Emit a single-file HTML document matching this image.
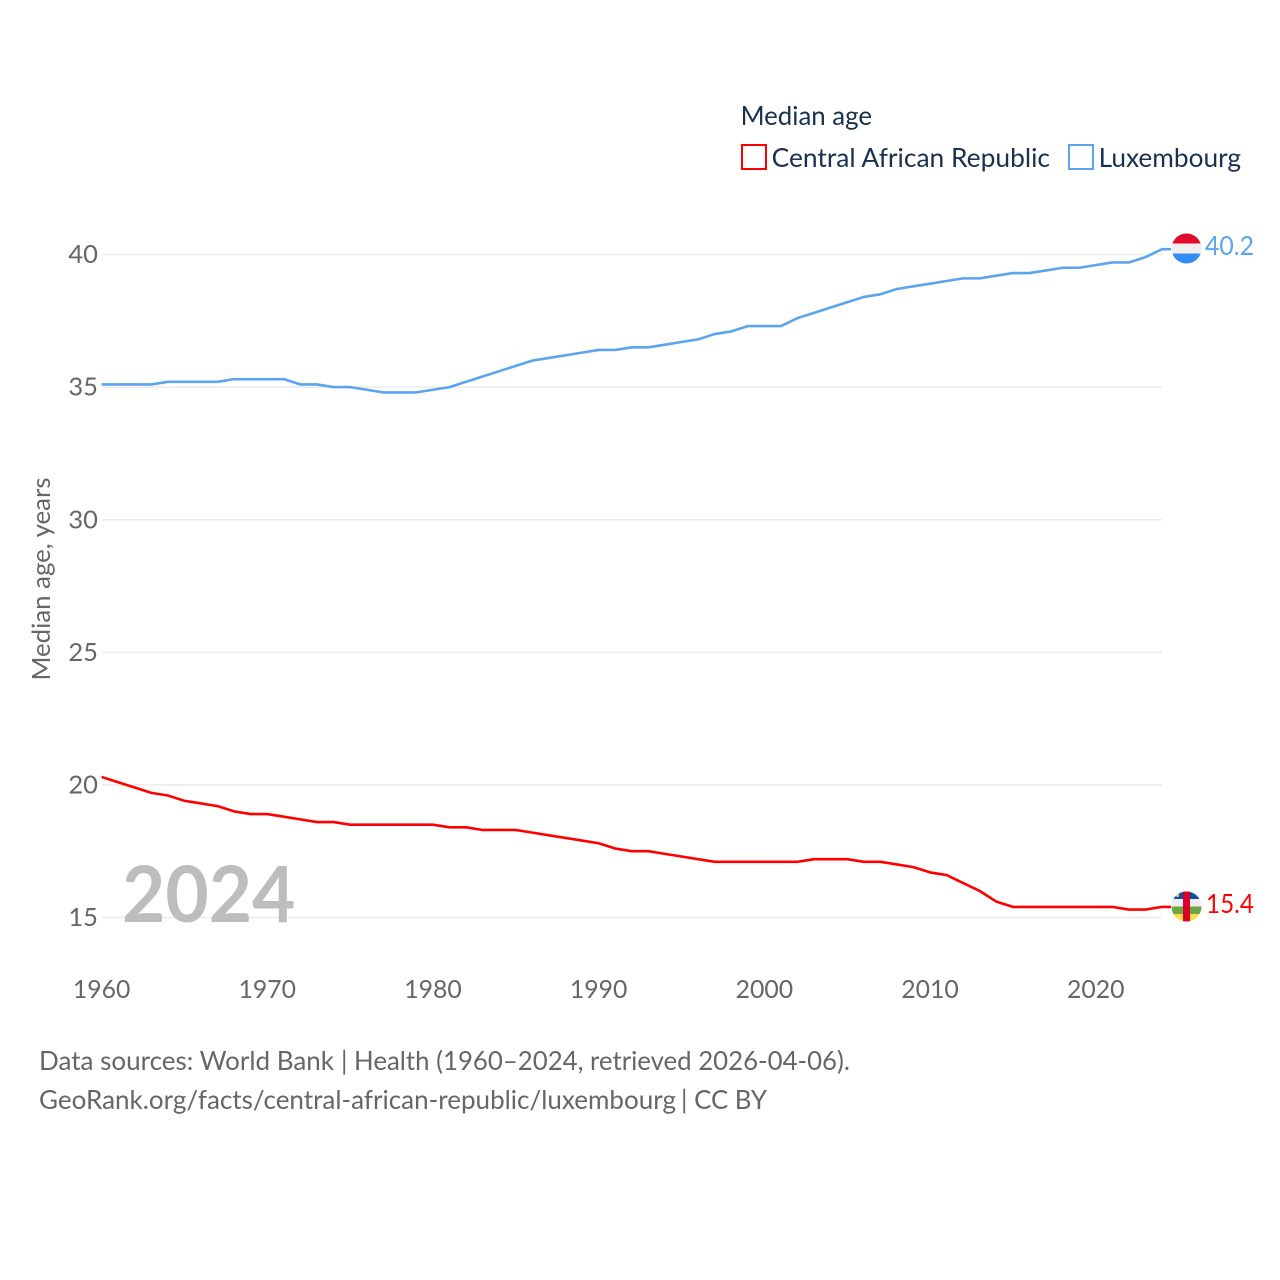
<!DOCTYPE html>
<html lang="en">
<head>
<meta charset="utf-8">
<title>Median age: Central African Republic vs Luxembourg</title>
<style>
html,body{margin:0;padding:0;background:#fff;width:1280px;height:1280px;overflow:hidden}
svg{display:block}
text{font-family:"Lato","Carlito","Liberation Sans",sans-serif}
</style>
</head>
<body>
<svg id="chart" width="1280" height="1280" viewBox="0 0 1280 1280" xmlns="http://www.w3.org/2000/svg">
  <defs>
    <clipPath id="lu-clip"><circle cx="1186.5" cy="248.5" r="15"/></clipPath>
    <clipPath id="cf-clip"><circle cx="1186.5" cy="906.5" r="15"/></clipPath>
  </defs>
  <g id="grid"></g>
  <g id="y-ticks"></g>
  <g id="x-ticks"></g>
  <text transform="translate(50,680.5) rotate(-90)" font-size="25" fill="#666666" textLength="203" lengthAdjust="spacingAndGlyphs">Median age, years</text>
  <text x="122" y="922" font-size="78" font-weight="700" fill="#bdbdbd" textLength="173.5" lengthAdjust="spacingAndGlyphs">2024</text>
  <g id="series"></g>

  <g>
    <text x="740.6" y="125" font-size="26" fill="#1a3050" textLength="131.4" lengthAdjust="spacingAndGlyphs">Median age</text>
    <rect x="742" y="145" width="24" height="24" fill="#fff" stroke="#ff0000" stroke-width="2"/>
    <text x="771.6" y="167" font-size="26" fill="#1a3050" textLength="278.4" lengthAdjust="spacingAndGlyphs">Central African Republic</text>
    <rect x="1069" y="145" width="24" height="24" fill="#fff" stroke="#5ba4ee" stroke-width="2"/>
    <text x="1098.6" y="167" font-size="26" fill="#1a3050" textLength="142.4" lengthAdjust="spacingAndGlyphs">Luxembourg</text>
  </g>

  <g clip-path="url(#lu-clip)">
    <rect x="1171" y="233.5" width="31" height="10" fill="#e00b2c"/>
    <rect x="1171" y="243.5" width="31" height="10" fill="#eeeeee"/>
    <rect x="1171" y="253.5" width="31" height="10" fill="#338df5"/>
  </g>
  <g clip-path="url(#cf-clip)">
    <rect x="1171" y="891.5" width="31" height="7.5" fill="#0f4fa8"/>
    <rect x="1171" y="899" width="31" height="7.5" fill="#eeeeee"/>
    <rect x="1171" y="906.5" width="31" height="7.5" fill="#6da544"/>
    <rect x="1171" y="914" width="31" height="7.5" fill="#ffda44"/>
    <rect x="1183" y="891.5" width="7" height="30" fill="#d80027"/>
    <circle cx="1177.5" cy="895.5" r="1.5" fill="#ffda44"/>
  </g>
  <text x="1205" y="255" font-size="26" fill="#5ba4ee" textLength="49" lengthAdjust="spacingAndGlyphs">40.2</text>
  <text x="1206" y="913" font-size="26" fill="#ff0000" textLength="48" lengthAdjust="spacingAndGlyphs">15.4</text>

  <g>
    <text x="39" y="1070" font-size="26" fill="#666666" textLength="295" lengthAdjust="spacingAndGlyphs">Data sources: World Bank</text>
    <text x="341" y="1070" font-size="26" fill="#666666" textLength="509" lengthAdjust="spacingAndGlyphs">| Health (1960–2024, retrieved 2026-04-06).</text>
    <text x="39" y="1109" font-size="26" fill="#666666" textLength="637" lengthAdjust="spacingAndGlyphs">GeoRank.org/facts/central-african-republic/luxembourg</text>
    <text x="681" y="1109" font-size="26" fill="#666666" textLength="86" lengthAdjust="spacingAndGlyphs">| CC BY</text>
  </g>
</svg>
<script>
const startYear = 1960;
const yTickValues = [15, 20, 25, 30, 35, 40];
const xTickValues = [1960, 1970, 1980, 1990, 2000, 2010, 2020];
const centralAfricanRepublic = [
  20.3, 20.1, 19.9, 19.7, 19.6, 19.4, 19.3, 19.2, 19.0, 18.9,
  18.9, 18.8, 18.7, 18.6, 18.6, 18.5, 18.5, 18.5, 18.5, 18.5,
  18.5, 18.4, 18.4, 18.3, 18.3, 18.3, 18.2, 18.1, 18.0, 17.9,
  17.8, 17.6, 17.5, 17.5, 17.4, 17.3, 17.2, 17.1, 17.1, 17.1,
  17.1, 17.1, 17.1, 17.2, 17.2, 17.2, 17.1, 17.1, 17.0, 16.9,
  16.7, 16.6, 16.3, 16.0, 15.6, 15.4, 15.4, 15.4, 15.4, 15.4,
  15.4, 15.4, 15.3, 15.3, 15.4
];
const luxembourg = [
  35.1, 35.1, 35.1, 35.1, 35.2, 35.2, 35.2, 35.2, 35.3, 35.3,
  35.3, 35.3, 35.1, 35.1, 35.0, 35.0, 34.9, 34.8, 34.8, 34.8,
  34.9, 35.0, 35.2, 35.4, 35.6, 35.8, 36.0, 36.1, 36.2, 36.3,
  36.4, 36.4, 36.5, 36.5, 36.6, 36.7, 36.8, 37.0, 37.1, 37.3,
  37.3, 37.3, 37.6, 37.8, 38.0, 38.2, 38.4, 38.5, 38.7, 38.8,
  38.9, 39.0, 39.1, 39.1, 39.2, 39.3, 39.3, 39.4, 39.5, 39.5,
  39.6, 39.7, 39.7, 39.9, 40.2
];

const NS = 'http://www.w3.org/2000/svg';
function xScale(year) { return 101.6 + (year - 1960) * (1162 - 101.6) / 64; }
function yScale(v) { return 917.5 - (v - 15) * 26.52; }

const gridGroup = document.getElementById('grid');
const yGroup = document.getElementById('y-ticks');
yTickValues.forEach(function (v) {
  const line = document.createElementNS(NS, 'line');
  
  
  line.setAttribute('x1', 102);
  line.setAttribute('x2', 1162);
  line.setAttribute('y1', yScale(v));
  line.setAttribute('y2', yScale(v));
  line.setAttribute('stroke', '#ebebeb');
  line.setAttribute('stroke-width', 1.5);
  gridGroup.appendChild(line);
  const t = document.createElementNS(NS, 'text');
  
  
  t.setAttribute('x', 98);
  t.setAttribute('y', yScale(v) + 8.6);
  t.setAttribute('text-anchor', 'end');
  t.setAttribute('font-size', 25);
  t.setAttribute('fill', '#666666');
  t.setAttribute('textLength', 29.6);
  t.setAttribute('lengthAdjust', 'spacingAndGlyphs');
  t.textContent = String(v);
  yGroup.appendChild(t);
});

const xGroup = document.getElementById('x-ticks');
xTickValues.forEach(function (year) {
  const t = document.createElementNS(NS, 'text');
  
  
  t.setAttribute('x', xScale(year));
  t.setAttribute('y', 998);
  t.setAttribute('text-anchor', 'middle');
  t.setAttribute('font-size', 25);
  t.setAttribute('fill', '#666666');
  t.setAttribute('textLength', 57.5);
  t.setAttribute('lengthAdjust', 'spacingAndGlyphs');
  t.textContent = String(year);
  xGroup.appendChild(t);
});

function drawSeries(values, color, name) {
  const pts = values.map(function (v, i) {
    return xScale(startYear + i).toFixed(2) + ',' + yScale(v).toFixed(2);
  });
  const last = yScale(values[values.length - 1]).toFixed(2);
  pts.push('1171,' + last);
  const line = document.createElementNS(NS, 'polyline');
  
  
  line.setAttribute('points', pts.join(' '));
  line.setAttribute('fill', 'none');
  line.setAttribute('stroke', color);
  line.setAttribute('stroke-width', 2.6);
  line.setAttribute('stroke-linejoin', 'round');
  document.getElementById('series').appendChild(line);
}
drawSeries(centralAfricanRepublic, '#ff0000', 'line-central-african-republic');
drawSeries(luxembourg, '#5ba4ee', 'line-luxembourg');
</script>
</body>
</html>
